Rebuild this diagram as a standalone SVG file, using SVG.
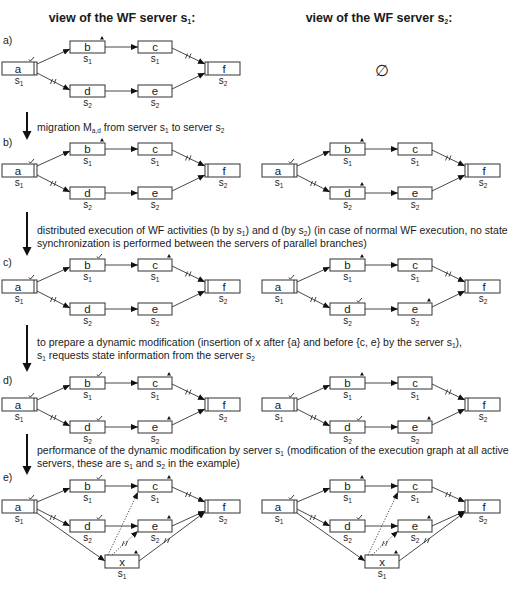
<svg xmlns="http://www.w3.org/2000/svg" xmlns:xlink="http://www.w3.org/1999/xlink" width="515" height="591" viewBox="0 0 515 591">
<style>
text{font-family:"Liberation Sans",Arial,sans-serif;fill:#1a1a1a}
.hd{font-size:12.5px;font-weight:bold;text-anchor:middle}
.tx{font-size:10.5px}
.lbl{font-size:11.5px;text-anchor:middle}
.srv{font-size:10px;text-anchor:middle}
.sub{font-size:6.5px}
.box{fill:#fff;stroke:#333;stroke-width:1}
.bar{stroke:#333;stroke-width:1;fill:none}
.e{stroke:#333;stroke-width:0.9;fill:none;marker-end:url(#ah)}
.dot{stroke-dasharray:1.2 1.6}
.big{stroke:#111;stroke-width:2;fill:none}
</style>
<defs>
<marker id="ah" markerUnits="userSpaceOnUse" markerWidth="7" markerHeight="6" refX="7" refY="3" orient="auto"><path d="M0,0 L7,3 L0,6 z" fill="#111"/></marker>
<path id="chk" d="M-8,-2.5 L-6.6,-0.8 L-3,-5" fill="none" stroke="#222" stroke-width="0.9"/>
<path id="tri" d="M-5,-1.5 L-1,-1.5 L-3,-5 z" fill="#111"/>
<path id="sl" d="M-3,2.5 L-1,-2.5 M0.5,2.5 L2.5,-2.5" fill="none" stroke="#333" stroke-width="0.9"/>
<polygon id="bigah" points="-4.5,-9 4.5,-9 0,0" fill="#111"/>
</defs>

<text class="hd" x="122" y="22">view of the WF server s<tspan class="sub" dy="2">1</tspan><tspan dy="-2">:</tspan></text>
<text class="hd" x="379" y="22">view of the WF server s<tspan class="sub" dy="2">2</tspan><tspan dy="-2">:</tspan></text>

<text class="tx" x="3" y="44">a)</text>
<text class="tx" x="3" y="146">b)</text>
<text class="tx" x="3" y="266">c)</text>
<text class="tx" x="3" y="384">d)</text>
<text class="tx" x="3" y="481">e)</text>

<g id="steps">
<path class="big" d="M27,112 V132"/><use xlink:href="#bigah" x="27" y="140"/>
<path class="big" d="M27,212 V248"/><use xlink:href="#bigah" x="27" y="256"/>
<path class="big" d="M27,325 V364"/><use xlink:href="#bigah" x="27" y="372"/>
<path class="big" d="M27,434 V467"/><use xlink:href="#bigah" x="27" y="475"/>
</g>

<text class="tx" x="37" y="131">migration M<tspan class="sub" dy="2">a,d</tspan><tspan dy="-2"> from server s</tspan><tspan class="sub" dy="2">1</tspan><tspan dy="-2"> to server s</tspan><tspan class="sub" dy="2">2</tspan></text>
<text class="tx" x="37" y="234">distributed execution of WF activities (b by s<tspan class="sub" dy="2">1</tspan><tspan dy="-2">) and d (by s</tspan><tspan class="sub" dy="2">2</tspan><tspan dy="-2">) (in case of normal WF execution, no state</tspan></text>
<text class="tx" x="37" y="247">synchronization is performed between the servers of parallel branches)</text>
<text class="tx" x="37" y="346">to prepare a dynamic modification (insertion of x after {a} and before {c, e} by the server s<tspan class="sub" dy="2">1</tspan><tspan dy="-2">),</tspan></text>
<text class="tx" x="37" y="359">s<tspan class="sub" dy="2">1</tspan><tspan dy="-2"> requests state information from the server s</tspan><tspan class="sub" dy="2">2</tspan></text>
<text class="tx" x="37" y="454">performance of the dynamic modification by server s<tspan class="sub" dy="2">1</tspan><tspan dy="-2"> (modification of the execution graph at all active</tspan></text>
<text class="tx" x="37" y="467">servers, these are s<tspan class="sub" dy="2">1</tspan><tspan dy="-2"> and s</tspan><tspan class="sub" dy="2">2</tspan><tspan dy="-2"> in the example)</tspan></text>

<text x="382" y="76" style="font-family:'DejaVu Sans',sans-serif;font-size:16px;text-anchor:middle">∅</text>

<!-- Row a left -->
<g id="rowA-L" transform="translate(0,41)">
<g class="connectors">
<path class="e" d="M37,23 L70,8"/><path class="e" d="M37,32 L70,49"/><path class="e" d="M105,6 L138,6"/><path class="e" d="M105,50 L138,50"/><path class="e" d="M172,7 L205,23"/><path class="e" d="M172,48 L205,32"/>
<use xlink:href="#sl" x="53.5" y="40.5"/><use xlink:href="#sl" x="188.5" y="15"/>
</g>
<g id="A-L-a"><rect class="box" x="2" y="21" width="35" height="13"/><path class="bar" d="M34,21 V34"/><text class="lbl" x="18" y="32">a</text><text class="srv" x="19" y="43">s<tspan class="sub" dy="2">1</tspan></text></g>
<g id="A-L-b"><rect class="box" x="70" y="0" width="35" height="12"/><text class="lbl" x="87.5" y="10">b</text><text class="srv" x="87.5" y="21">s<tspan class="sub" dy="2">1</tspan></text></g>
<g id="A-L-c"><rect class="box" x="138" y="0" width="34" height="12"/><text class="lbl" x="155" y="10">c</text><text class="srv" x="155" y="21">s<tspan class="sub" dy="2">1</tspan></text></g>
<g id="A-L-d"><rect class="box" x="70" y="44" width="35" height="12"/><text class="lbl" x="87.5" y="54">d</text><text class="srv" x="87.5" y="65">s<tspan class="sub" dy="2">2</tspan></text></g>
<g id="A-L-e"><rect class="box" x="138" y="44" width="34" height="12"/><text class="lbl" x="155" y="54">e</text><text class="srv" x="155" y="65">s<tspan class="sub" dy="2">2</tspan></text></g>
<g id="A-L-f"><rect class="box" x="205" y="21" width="35" height="13"/><path class="bar" d="M208,21 V34"/><text class="lbl" x="224" y="32">f</text><text class="srv" x="223" y="43">s<tspan class="sub" dy="2">2</tspan></text></g>
<use xlink:href="#chk" x="37" y="21"/><use xlink:href="#tri" x="105" y="0"/>
</g>

<!-- Row b left -->
<g id="rowB-L" transform="translate(0,143)">
<g class="connectors">
<path class="e" d="M37,23 L70,8"/><path class="e" d="M37,32 L70,49"/><path class="e" d="M105,6 L138,6"/><path class="e" d="M105,50 L138,50"/><path class="e" d="M172,7 L205,23"/><path class="e" d="M172,48 L205,32"/>
<use xlink:href="#sl" x="53.5" y="40.5"/><use xlink:href="#sl" x="188.5" y="15"/>
</g>
<g id="B-L-a"><rect class="box" x="2" y="21" width="35" height="13"/><path class="bar" d="M34,21 V34"/><text class="lbl" x="18" y="32">a</text><text class="srv" x="19" y="43">s<tspan class="sub" dy="2">1</tspan></text></g>
<g id="B-L-b"><rect class="box" x="70" y="0" width="35" height="12"/><text class="lbl" x="87.5" y="10">b</text><text class="srv" x="87.5" y="21">s<tspan class="sub" dy="2">1</tspan></text></g>
<g id="B-L-c"><rect class="box" x="138" y="0" width="34" height="12"/><text class="lbl" x="155" y="10">c</text><text class="srv" x="155" y="21">s<tspan class="sub" dy="2">1</tspan></text></g>
<g id="B-L-d"><rect class="box" x="70" y="44" width="35" height="12"/><text class="lbl" x="87.5" y="54">d</text><text class="srv" x="87.5" y="65">s<tspan class="sub" dy="2">2</tspan></text></g>
<g id="B-L-e"><rect class="box" x="138" y="44" width="34" height="12"/><text class="lbl" x="155" y="54">e</text><text class="srv" x="155" y="65">s<tspan class="sub" dy="2">2</tspan></text></g>
<g id="B-L-f"><rect class="box" x="205" y="21" width="35" height="13"/><path class="bar" d="M208,21 V34"/><text class="lbl" x="224" y="32">f</text><text class="srv" x="223" y="43">s<tspan class="sub" dy="2">2</tspan></text></g>
<use xlink:href="#chk" x="37" y="21"/><use xlink:href="#tri" x="105" y="0"/>
</g>

<!-- Row b right -->
<g id="rowB-R" transform="translate(260,143)">
<g class="connectors">
<path class="e" d="M37,23 L70,8"/><path class="e" d="M37,32 L70,49"/><path class="e" d="M105,6 L138,6"/><path class="e" d="M105,50 L138,50"/><path class="e" d="M172,7 L205,23"/><path class="e" d="M172,48 L205,32"/>
<use xlink:href="#sl" x="53.5" y="40.5"/><use xlink:href="#sl" x="188.5" y="15"/>
</g>
<g id="B-R-a"><rect class="box" x="2" y="21" width="35" height="13"/><path class="bar" d="M34,21 V34"/><text class="lbl" x="18" y="32">a</text><text class="srv" x="19" y="43">s<tspan class="sub" dy="2">1</tspan></text></g>
<g id="B-R-b"><rect class="box" x="70" y="0" width="35" height="12"/><text class="lbl" x="87.5" y="10">b</text><text class="srv" x="87.5" y="21">s<tspan class="sub" dy="2">1</tspan></text></g>
<g id="B-R-c"><rect class="box" x="138" y="0" width="34" height="12"/><text class="lbl" x="155" y="10">c</text><text class="srv" x="155" y="21">s<tspan class="sub" dy="2">1</tspan></text></g>
<g id="B-R-d"><rect class="box" x="70" y="44" width="35" height="12"/><text class="lbl" x="87.5" y="54">d</text><text class="srv" x="87.5" y="65">s<tspan class="sub" dy="2">2</tspan></text></g>
<g id="B-R-e"><rect class="box" x="138" y="44" width="34" height="12"/><text class="lbl" x="155" y="54">e</text><text class="srv" x="155" y="65">s<tspan class="sub" dy="2">2</tspan></text></g>
<g id="B-R-f"><rect class="box" x="205" y="21" width="35" height="13"/><path class="bar" d="M208,21 V34"/><text class="lbl" x="224" y="32">f</text><text class="srv" x="223" y="43">s<tspan class="sub" dy="2">2</tspan></text></g>
<use xlink:href="#chk" x="37" y="21"/><use xlink:href="#tri" x="105" y="0"/><use xlink:href="#tri" x="105" y="44"/>
</g>

<!-- Row c left -->
<g id="rowC-L" transform="translate(0,259)">
<g class="connectors">
<path class="e" d="M37,23 L70,8"/><path class="e" d="M37,32 L70,49"/><path class="e" d="M105,6 L138,6"/><path class="e" d="M105,50 L138,50"/><path class="e" d="M172,7 L205,23"/><path class="e" d="M172,48 L205,32"/>
<use xlink:href="#sl" x="53.5" y="40.5"/><use xlink:href="#sl" x="188.5" y="15"/>
</g>
<g id="C-L-a"><rect class="box" x="2" y="21" width="35" height="13"/><path class="bar" d="M34,21 V34"/><text class="lbl" x="18" y="32">a</text><text class="srv" x="19" y="43">s<tspan class="sub" dy="2">1</tspan></text></g>
<g id="C-L-b"><rect class="box" x="70" y="0" width="35" height="12"/><text class="lbl" x="87.5" y="10">b</text><text class="srv" x="87.5" y="21">s<tspan class="sub" dy="2">1</tspan></text></g>
<g id="C-L-c"><rect class="box" x="138" y="0" width="34" height="12"/><text class="lbl" x="155" y="10">c</text><text class="srv" x="155" y="21">s<tspan class="sub" dy="2">1</tspan></text></g>
<g id="C-L-d"><rect class="box" x="70" y="44" width="35" height="12"/><text class="lbl" x="87.5" y="54">d</text><text class="srv" x="87.5" y="65">s<tspan class="sub" dy="2">2</tspan></text></g>
<g id="C-L-e"><rect class="box" x="138" y="44" width="34" height="12"/><text class="lbl" x="155" y="54">e</text><text class="srv" x="155" y="65">s<tspan class="sub" dy="2">2</tspan></text></g>
<g id="C-L-f"><rect class="box" x="205" y="21" width="35" height="13"/><path class="bar" d="M208,21 V34"/><text class="lbl" x="224" y="32">f</text><text class="srv" x="223" y="43">s<tspan class="sub" dy="2">2</tspan></text></g>
<use xlink:href="#chk" x="37" y="21"/><use xlink:href="#chk" x="105" y="0"/><use xlink:href="#tri" x="172" y="0"/>
</g>

<!-- Row c right -->
<g id="rowC-R" transform="translate(260,259)">
<g class="connectors">
<path class="e" d="M37,23 L70,8"/><path class="e" d="M37,32 L70,49"/><path class="e" d="M105,6 L138,6"/><path class="e" d="M105,50 L138,50"/><path class="e" d="M172,7 L205,23"/><path class="e" d="M172,48 L205,32"/>
<use xlink:href="#sl" x="53.5" y="40.5"/><use xlink:href="#sl" x="188.5" y="15"/>
</g>
<g id="C-R-a"><rect class="box" x="2" y="21" width="35" height="13"/><path class="bar" d="M34,21 V34"/><text class="lbl" x="18" y="32">a</text><text class="srv" x="19" y="43">s<tspan class="sub" dy="2">1</tspan></text></g>
<g id="C-R-b"><rect class="box" x="70" y="0" width="35" height="12"/><text class="lbl" x="87.5" y="10">b</text><text class="srv" x="87.5" y="21">s<tspan class="sub" dy="2">1</tspan></text></g>
<g id="C-R-c"><rect class="box" x="138" y="0" width="34" height="12"/><text class="lbl" x="155" y="10">c</text><text class="srv" x="155" y="21">s<tspan class="sub" dy="2">1</tspan></text></g>
<g id="C-R-d"><rect class="box" x="70" y="44" width="35" height="12"/><text class="lbl" x="87.5" y="54">d</text><text class="srv" x="87.5" y="65">s<tspan class="sub" dy="2">2</tspan></text></g>
<g id="C-R-e"><rect class="box" x="138" y="44" width="34" height="12"/><text class="lbl" x="155" y="54">e</text><text class="srv" x="155" y="65">s<tspan class="sub" dy="2">2</tspan></text></g>
<g id="C-R-f"><rect class="box" x="205" y="21" width="35" height="13"/><path class="bar" d="M208,21 V34"/><text class="lbl" x="224" y="32">f</text><text class="srv" x="223" y="43">s<tspan class="sub" dy="2">2</tspan></text></g>
<use xlink:href="#chk" x="37" y="21"/><use xlink:href="#tri" x="105" y="0"/><use xlink:href="#chk" x="105" y="44"/><use xlink:href="#tri" x="172" y="44"/>
</g>

<!-- Row d left -->
<g id="rowD-L" transform="translate(0,377)">
<g class="connectors">
<path class="e" d="M37,23 L70,8"/><path class="e" d="M37,32 L70,49"/><path class="e" d="M105,6 L138,6"/><path class="e" d="M105,50 L138,50"/><path class="e" d="M172,7 L205,23"/><path class="e" d="M172,48 L205,32"/>
<use xlink:href="#sl" x="53.5" y="40.5"/><use xlink:href="#sl" x="188.5" y="15"/>
</g>
<g id="D-L-a"><rect class="box" x="2" y="21" width="35" height="13"/><path class="bar" d="M34,21 V34"/><text class="lbl" x="18" y="32">a</text><text class="srv" x="19" y="43">s<tspan class="sub" dy="2">1</tspan></text></g>
<g id="D-L-b"><rect class="box" x="70" y="0" width="35" height="12"/><text class="lbl" x="87.5" y="10">b</text><text class="srv" x="87.5" y="21">s<tspan class="sub" dy="2">1</tspan></text></g>
<g id="D-L-c"><rect class="box" x="138" y="0" width="34" height="12"/><text class="lbl" x="155" y="10">c</text><text class="srv" x="155" y="21">s<tspan class="sub" dy="2">1</tspan></text></g>
<g id="D-L-d"><rect class="box" x="70" y="44" width="35" height="12"/><text class="lbl" x="87.5" y="54">d</text><text class="srv" x="87.5" y="65">s<tspan class="sub" dy="2">2</tspan></text></g>
<g id="D-L-e"><rect class="box" x="138" y="44" width="34" height="12"/><text class="lbl" x="155" y="54">e</text><text class="srv" x="155" y="65">s<tspan class="sub" dy="2">2</tspan></text></g>
<g id="D-L-f"><rect class="box" x="205" y="21" width="35" height="13"/><path class="bar" d="M208,21 V34"/><text class="lbl" x="224" y="32">f</text><text class="srv" x="223" y="43">s<tspan class="sub" dy="2">2</tspan></text></g>
<use xlink:href="#chk" x="37" y="21"/><use xlink:href="#chk" x="105" y="0"/><use xlink:href="#tri" x="172" y="0"/><use xlink:href="#chk" x="105" y="44"/><use xlink:href="#tri" x="172" y="44"/>
</g>

<!-- Row d right -->
<g id="rowD-R" transform="translate(260,377)">
<g class="connectors">
<path class="e" d="M37,23 L70,8"/><path class="e" d="M37,32 L70,49"/><path class="e" d="M105,6 L138,6"/><path class="e" d="M105,50 L138,50"/><path class="e" d="M172,7 L205,23"/><path class="e" d="M172,48 L205,32"/>
<use xlink:href="#sl" x="53.5" y="40.5"/><use xlink:href="#sl" x="188.5" y="15"/>
</g>
<g id="D-R-a"><rect class="box" x="2" y="21" width="35" height="13"/><path class="bar" d="M34,21 V34"/><text class="lbl" x="18" y="32">a</text><text class="srv" x="19" y="43">s<tspan class="sub" dy="2">1</tspan></text></g>
<g id="D-R-b"><rect class="box" x="70" y="0" width="35" height="12"/><text class="lbl" x="87.5" y="10">b</text><text class="srv" x="87.5" y="21">s<tspan class="sub" dy="2">1</tspan></text></g>
<g id="D-R-c"><rect class="box" x="138" y="0" width="34" height="12"/><text class="lbl" x="155" y="10">c</text><text class="srv" x="155" y="21">s<tspan class="sub" dy="2">1</tspan></text></g>
<g id="D-R-d"><rect class="box" x="70" y="44" width="35" height="12"/><text class="lbl" x="87.5" y="54">d</text><text class="srv" x="87.5" y="65">s<tspan class="sub" dy="2">2</tspan></text></g>
<g id="D-R-e"><rect class="box" x="138" y="44" width="34" height="12"/><text class="lbl" x="155" y="54">e</text><text class="srv" x="155" y="65">s<tspan class="sub" dy="2">2</tspan></text></g>
<g id="D-R-f"><rect class="box" x="205" y="21" width="35" height="13"/><path class="bar" d="M208,21 V34"/><text class="lbl" x="224" y="32">f</text><text class="srv" x="223" y="43">s<tspan class="sub" dy="2">2</tspan></text></g>
<use xlink:href="#chk" x="37" y="21"/><use xlink:href="#tri" x="105" y="0"/><use xlink:href="#chk" x="105" y="44"/><use xlink:href="#tri" x="172" y="44"/>
</g>

<!-- Row e left -->
<g id="rowE-L" transform="translate(0,480)">
<g class="connectors">
<path class="e" d="M37,22 L70,8"/><path class="e" d="M37,29 L70,46"/><path class="e" d="M37,33 L105,81"/><path class="e" d="M105,6 L138,6"/><path class="e" d="M105,46 L138,46"/><path class="e" d="M172,7 L205,22"/><path class="e" d="M172,46 L205,31"/><path class="e" d="M139,81 L205,32"/>
<path class="e dot" d="M108,75 L138,12"/><path class="e dot" d="M112,75 L138,51"/>
<use xlink:href="#sl" x="53" y="37.5"/><use xlink:href="#sl" x="188.5" y="14.5"/><use xlink:href="#sl" x="167" y="60.5"/><use xlink:href="#sl" x="125" y="63.5"/>
</g>
<g id="E-L-a"><rect class="box" x="2" y="20" width="35" height="13"/><path class="bar" d="M34,20 V33"/><text class="lbl" x="18" y="31">a</text><text class="srv" x="19" y="42">s<tspan class="sub" dy="2">1</tspan></text></g>
<g id="E-L-b"><rect class="box" x="70" y="0" width="35" height="12"/><text class="lbl" x="87.5" y="10">b</text><text class="srv" x="87.5" y="21">s<tspan class="sub" dy="2">1</tspan></text></g>
<g id="E-L-c"><rect class="box" x="138" y="0" width="34" height="12"/><text class="lbl" x="155" y="10">c</text><text class="srv" x="155" y="21">s<tspan class="sub" dy="2">1</tspan></text></g>
<g id="E-L-d"><rect class="box" x="70" y="40" width="35" height="12"/><text class="lbl" x="87.5" y="50">d</text><text class="srv" x="87.5" y="61">s<tspan class="sub" dy="2">2</tspan></text></g>
<g id="E-L-e"><rect class="box" x="138" y="40" width="34" height="12"/><text class="lbl" x="155" y="50">e</text><text class="srv" x="155" y="61">s<tspan class="sub" dy="2">2</tspan></text></g>
<g id="E-L-f"><rect class="box" x="205" y="20" width="35" height="13"/><path class="bar" d="M208,20 V33"/><text class="lbl" x="224" y="31">f</text><text class="srv" x="223" y="42">s<tspan class="sub" dy="2">2</tspan></text></g>
<g id="E-L-x"><rect class="box" x="105" y="75" width="34" height="13"/><text class="lbl" x="122" y="86">x</text><text class="srv" x="122" y="97">s<tspan class="sub" dy="2">1</tspan></text></g>
<use xlink:href="#chk" x="37" y="20"/><use xlink:href="#chk" x="105" y="0"/><use xlink:href="#tri" x="172" y="0"/><use xlink:href="#chk" x="105" y="40"/><use xlink:href="#tri" x="172" y="40"/><use xlink:href="#tri" x="139" y="75"/>
</g>

<!-- Row e right -->
<g id="rowE-R" transform="translate(260,480)">
<g class="connectors">
<path class="e" d="M37,22 L70,8"/><path class="e" d="M37,29 L70,46"/><path class="e" d="M37,33 L105,81"/><path class="e" d="M105,6 L138,6"/><path class="e" d="M105,46 L138,46"/><path class="e" d="M172,7 L205,22"/><path class="e" d="M172,46 L205,31"/><path class="e" d="M139,81 L205,32"/>
<path class="e dot" d="M108,75 L138,12"/><path class="e dot" d="M112,75 L138,51"/>
<use xlink:href="#sl" x="53" y="37.5"/><use xlink:href="#sl" x="188.5" y="14.5"/><use xlink:href="#sl" x="167" y="60.5"/><use xlink:href="#sl" x="125" y="63.5"/>
</g>
<g id="E-R-a"><rect class="box" x="2" y="20" width="35" height="13"/><path class="bar" d="M34,20 V33"/><text class="lbl" x="18" y="31">a</text><text class="srv" x="19" y="42">s<tspan class="sub" dy="2">1</tspan></text></g>
<g id="E-R-b"><rect class="box" x="70" y="0" width="35" height="12"/><text class="lbl" x="87.5" y="10">b</text><text class="srv" x="87.5" y="21">s<tspan class="sub" dy="2">1</tspan></text></g>
<g id="E-R-c"><rect class="box" x="138" y="0" width="34" height="12"/><text class="lbl" x="155" y="10">c</text><text class="srv" x="155" y="21">s<tspan class="sub" dy="2">1</tspan></text></g>
<g id="E-R-d"><rect class="box" x="70" y="40" width="35" height="12"/><text class="lbl" x="87.5" y="50">d</text><text class="srv" x="87.5" y="61">s<tspan class="sub" dy="2">2</tspan></text></g>
<g id="E-R-e"><rect class="box" x="138" y="40" width="34" height="12"/><text class="lbl" x="155" y="50">e</text><text class="srv" x="155" y="61">s<tspan class="sub" dy="2">2</tspan></text></g>
<g id="E-R-f"><rect class="box" x="205" y="20" width="35" height="13"/><path class="bar" d="M208,20 V33"/><text class="lbl" x="224" y="31">f</text><text class="srv" x="223" y="42">s<tspan class="sub" dy="2">2</tspan></text></g>
<g id="E-R-x"><rect class="box" x="105" y="75" width="34" height="13"/><text class="lbl" x="122" y="86">x</text><text class="srv" x="122" y="97">s<tspan class="sub" dy="2">1</tspan></text></g>
<use xlink:href="#chk" x="37" y="20"/><use xlink:href="#tri" x="105" y="0"/><use xlink:href="#chk" x="105" y="40"/><use xlink:href="#tri" x="172" y="40"/><use xlink:href="#tri" x="139" y="75"/>
</g>
</svg>
